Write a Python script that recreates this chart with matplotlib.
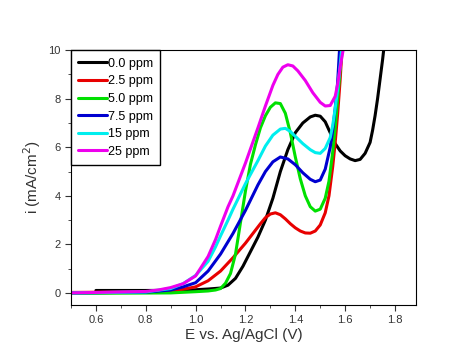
import matplotlib
matplotlib.use("Agg")
import matplotlib.pyplot as plt
from matplotlib.ticker import MultipleLocator

plt.rcParams['font.family'] = ['Liberation Sans', 'DejaVu Sans']

labels = ['0.0 ppm', '2.5 ppm', '5.0 ppm', '7.5 ppm', '15 ppm', '25 ppm']
colors = ['#000000', '#e80000', '#00e000', '#0000d0', '#00eeee', '#ee00ee']

x_00 = [0.6, 0.8, 0.95, 1.0, 1.05, 1.1, 1.13, 1.16, 1.19, 1.22, 1.25, 1.28, 1.31, 1.34,
        1.37, 1.40, 1.43, 1.46, 1.48, 1.50, 1.52, 1.54, 1.56, 1.58, 1.60, 1.62, 1.64,
        1.66, 1.68, 1.70, 1.71, 1.72, 1.73, 1.74, 1.75, 1.76]
y_00 = [0.1, 0.1, 0.11, 0.13, 0.16, 0.2, 0.32, 0.6, 1.1, 1.7, 2.3, 3.0, 3.9, 5.0,
        5.9, 6.6, 7.0, 7.25, 7.32, 7.28, 7.05, 6.6, 6.15, 5.85, 5.65, 5.52, 5.45,
        5.5, 5.75, 6.2, 6.7, 7.3, 8.0, 8.8, 9.6, 10.5]

x_25 = [0.5, 0.8, 0.9, 0.95, 1.0, 1.05, 1.1, 1.15, 1.2, 1.23, 1.26, 1.28, 1.30, 1.32,
        1.34, 1.36, 1.38, 1.40, 1.42, 1.44, 1.46, 1.48, 1.50, 1.52, 1.535, 1.55, 1.56,
        1.57, 1.58, 1.59]
y_25 = [0.02, 0.04, 0.09, 0.15, 0.25, 0.5, 0.9, 1.45, 2.05, 2.45, 2.85, 3.1, 3.25, 3.3,
        3.22, 3.05, 2.85, 2.68, 2.55, 2.47, 2.46, 2.55, 2.8, 3.3, 4.0, 5.2, 6.2,
        7.4, 8.8, 10.5]

x_50 = [0.5, 0.9, 1.0, 1.05, 1.08, 1.10, 1.12, 1.14, 1.16, 1.18, 1.20, 1.22, 1.24, 1.26,
        1.28, 1.30, 1.32, 1.34, 1.36, 1.38, 1.40, 1.42, 1.44, 1.46, 1.48, 1.50, 1.52,
        1.535, 1.55, 1.56, 1.57, 1.58, 1.59]
y_50 = [-0.02, 0.0, 0.05, 0.08, 0.12, 0.18, 0.4, 0.8, 1.6, 2.9, 4.2, 5.3, 6.1, 6.8,
        7.3, 7.65, 7.83, 7.8, 7.4, 6.6, 5.6, 4.7, 4.0, 3.55, 3.37, 3.45, 3.9,
        4.6, 5.8, 6.8, 8.0, 9.2, 10.5]

x_75 = [0.5, 0.8, 0.9, 0.95, 1.0, 1.05, 1.1, 1.15, 1.2, 1.25, 1.28, 1.31, 1.34, 1.37,
        1.40, 1.43, 1.46, 1.48, 1.50, 1.52, 1.54, 1.55, 1.56, 1.57, 1.58]
y_75 = [0.0, 0.03, 0.12, 0.25, 0.42, 0.9, 1.6, 2.45, 3.4, 4.45, 5.0, 5.4, 5.6, 5.52,
        5.28, 4.95, 4.68, 4.58, 4.65, 5.1, 6.0, 6.7, 7.6, 8.7, 10.5]

x_15 = [0.5, 0.8, 0.9, 0.95, 1.0, 1.05, 1.08, 1.1, 1.13, 1.15, 1.2, 1.25, 1.28, 1.31,
        1.34, 1.36, 1.38, 1.40, 1.43, 1.46, 1.48, 1.50, 1.52, 1.54, 1.55, 1.56, 1.57,
        1.58, 1.59]
y_15 = [0.0, 0.04, 0.18, 0.38, 0.72, 1.3, 1.9, 2.35, 3.0, 3.45, 4.5, 5.45, 6.05, 6.5,
        6.75, 6.78, 6.65, 6.45, 6.15, 5.9, 5.78, 5.75, 5.95, 6.4, 6.9, 7.6, 8.4,
        9.4, 10.5]

x_250 = [0.5, 0.8, 0.85, 0.9, 0.95, 1.0, 1.05, 1.08, 1.1, 1.13, 1.15, 1.2, 1.25, 1.28,
         1.31, 1.33, 1.35, 1.37, 1.39, 1.41, 1.44, 1.47, 1.50, 1.52, 1.54, 1.56, 1.57,
         1.58, 1.60]
y_250 = [0.0, 0.06, 0.12, 0.22, 0.38, 0.7, 1.5, 2.2, 2.75, 3.55, 4.0, 5.35, 6.8, 7.7,
         8.55, 9.0, 9.3, 9.4, 9.35, 9.15, 8.75, 8.25, 7.85, 7.7, 7.72, 8.1, 8.6,
         9.3, 10.5]

xs = [x_00, x_25, x_50, x_75, x_15, x_250]
ys = [y_00, y_25, y_50, y_75, y_15, y_250]

fig = plt.figure(figsize=(4.64, 3.61), dpi=100)
ax = fig.add_axes([0.153, 0.155, 0.744, 0.706])

for x, y, c, lab in zip(xs, ys, colors, labels):
    ax.plot(x, y, color=c, lw=2.2, label=lab, solid_joinstyle='round',
            solid_capstyle='round')

ax.set_xlim(0.5, 1.885)
ax.set_ylim(-0.5, 10)
ax.xaxis.set_minor_locator(MultipleLocator(0.1))
ax.yaxis.set_major_locator(MultipleLocator(2))
ax.yaxis.set_minor_locator(MultipleLocator(1))
ax.tick_params(which='both', direction='out', top=False, right=False,
               labelsize=8, colors='#333333')
ax.tick_params(which='major', length=4)
ax.tick_params(which='minor', length=2.5)
ax.set_xticks([0.6, 0.8, 1.0, 1.2, 1.4, 1.6, 1.8])
ax.set_xticklabels(['0.6', '0.8', '1.0', '1.2', '1.4', '1.6', '1.8'])

ax.set_xlabel('E vs. Ag/AgCl (V)', fontsize=11, color='#333333', labelpad=2)
ax.set_ylabel('i (mA/cm$^2$)', fontsize=11, color='#333333', labelpad=4)

leg = ax.legend(loc='upper left', borderaxespad=0, fontsize=9, handlelength=2.3,
                handletextpad=0.05, labelspacing=0.45, fancybox=False,
                framealpha=1, edgecolor='black', borderpad=0.6)
leg.get_frame().set_linewidth(1.0)

fig.savefig('out.png', dpi=100)
